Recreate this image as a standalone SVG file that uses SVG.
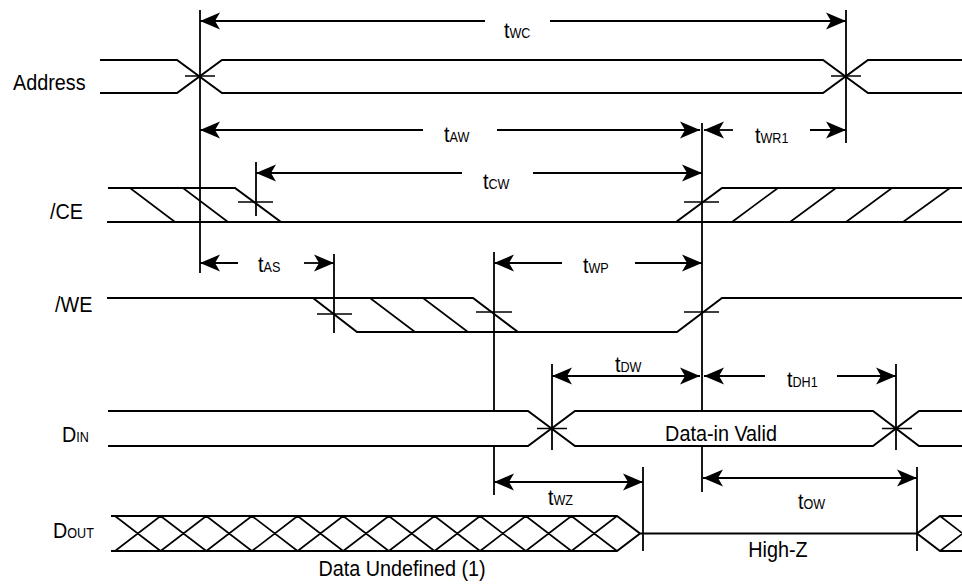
<svg xmlns="http://www.w3.org/2000/svg" width="962" height="584" viewBox="0 0 962 584">
<style>
.sig{fill:none;stroke:#000;stroke-width:2}
.hat{fill:none;stroke:#000;stroke-width:1.6}
.ref{fill:none;stroke:#000;stroke-width:1.8}
.dim{fill:none;stroke:#000;stroke-width:1.8}
.lbl{font-family:"Liberation Sans",Arial,sans-serif;font-size:22px;fill:#000}
.sub{font-size:14px}
</style>
<defs>
<marker id="ah" markerUnits="userSpaceOnUse" viewBox="0 -9 20 18" refX="20" refY="0" markerWidth="20" markerHeight="18" orient="auto-start-reverse">
<path d="M0,-8.5 L20,0 L0,8.5 L5,0 Z" fill="#000"/>
</marker>
</defs>
<rect width="962" height="584" fill="#fff"/>

<g id="address">
<text class="lbl" transform="matrix(0.9 0 0 1 13 90)">Address</text>
<path class="sig" d="M100,60 H177 L222,93 H823 L868,60 H962 M100,93 H177 L222,60 H823 L868,93 H962"/>
<path class="hat" d="M185,76 H215 M831,76 H861"/>
</g>

<g id="ce">
<text class="lbl" transform="matrix(0.9 0 0 1 50 219)">/CE</text>
<path class="sig" d="M108,188 H235 L281,222 M107,222 H962 M676,222 L722,188 H962"/>
<path class="hat" d="M130,188 L175,222 M183,188 L228,222 M732,222 L778,188 M790,222 L836,188 M846,222 L892,188 M903,222 L950,188"/>
<path class="hat" d="M238,202 H273 M684,202 H719"/>
</g>

<g id="we">
<text class="lbl" transform="matrix(0.9 0 0 1 55 312)">/WE</text>
<path class="sig" d="M107,298 H473 L518,332 M313,298 L357,332 H677 L722,298 H962"/>
<path class="hat" d="M370,298 L415,332 M423,298 L468,332"/>
<path class="hat" d="M317,314 H352 M476,312 H512 M684,312 H719"/>
</g>

<g id="din">
<text class="lbl" transform="matrix(0.9 0 0 1 62 442)">D<tspan class="sub">IN</tspan></text>
<path class="sig" d="M108,411 H528 L575,446 H873 L919,411 H962 M108,446 H528 L575,411 H873 L919,446 H962"/>
<path class="hat" d="M537,428.5 H567 M882,428.5 H912"/>
<text class="lbl" text-anchor="middle" transform="matrix(0.9 0 0 1 721 441)">Data-in Valid</text>
</g>

<g id="dout">
<text class="lbl" transform="matrix(0.9 0 0 1 53 538)">D<tspan class="sub">OUT</tspan></text>
<path class="sig" d="M111,516 H617 L640,533.5 L617,551 H111 M640,533.5 H917 L940,516 H962 M917,533.5 L940,551 H962"/>
<path class="hat" d="M115,516 L160.6,551 M115,551 L160.6,516 M160.6,516 L206.3,551 M160.6,551 L206.3,516 M206.3,516 L251.9,551 M206.3,551 L251.9,516 M251.9,516 L297.6,551 M251.9,551 L297.6,516 M297.6,516 L343.2,551 M297.6,551 L343.2,516 M343.2,516 L388.8,551 M343.2,551 L388.8,516 M388.8,516 L434.5,551 M388.8,551 L434.5,516 M434.5,516 L480.1,551 M434.5,551 L480.1,516 M480.1,516 L525.8,551 M480.1,551 L525.8,516 M525.8,516 L571.4,551 M525.8,551 L571.4,516 M571.4,516 L617,551 M571.4,551 L617,516 M940,516 L985,551 M940,551 L985,516"/>
<text class="lbl" text-anchor="middle" transform="matrix(0.9 0 0 1 402 576)">Data Undefined (1)</text>
<text class="lbl" text-anchor="middle" transform="matrix(0.9 0 0 1 778 557)">High-Z</text>
</g>

<g id="connectors">
<path class="ref" d="M200,10 V273 M846,10 V143 M702,123 V411 M702,447 V492 M256,162 V216 M334,254 V333 M494,252 V411 M494,447 V495 M552,364 V450 M896,364 V450 M643,467 V551 M917,467 V551"/>
<line class="dim" x1="200" y1="21" x2="485" y2="21" marker-start="url(#ah)"/>
<line class="dim" x1="550" y1="21" x2="846" y2="21" marker-end="url(#ah)"/>
<line class="dim" x1="200" y1="130" x2="423" y2="130" marker-start="url(#ah)"/>
<line class="dim" x1="497" y1="130" x2="700" y2="130" marker-end="url(#ah)"/>
<line class="dim" x1="704" y1="130" x2="733" y2="130" marker-start="url(#ah)"/>
<line class="dim" x1="810" y1="130" x2="846" y2="130" marker-end="url(#ah)"/>
<line class="dim" x1="256" y1="173" x2="462" y2="173" marker-start="url(#ah)"/>
<line class="dim" x1="533" y1="173" x2="702" y2="173" marker-end="url(#ah)"/>
<line class="dim" x1="200" y1="263" x2="238" y2="263" marker-start="url(#ah)"/>
<line class="dim" x1="304" y1="263" x2="334" y2="263" marker-end="url(#ah)"/>
<line class="dim" x1="494" y1="263" x2="562" y2="263" marker-start="url(#ah)"/>
<line class="dim" x1="635" y1="263" x2="702" y2="263" marker-end="url(#ah)"/>
<line class="dim" x1="552" y1="376" x2="700" y2="376" marker-start="url(#ah)" marker-end="url(#ah)"/>
<line class="dim" x1="704" y1="376" x2="765" y2="376" marker-start="url(#ah)"/>
<line class="dim" x1="837" y1="376" x2="896" y2="376" marker-end="url(#ah)"/>
<line class="dim" x1="494" y1="482" x2="643" y2="482" marker-start="url(#ah)" marker-end="url(#ah)"/>
<line class="dim" x1="703" y1="478" x2="917" y2="478" marker-start="url(#ah)" marker-end="url(#ah)"/>
<text class="lbl" transform="matrix(0.9 0 0 1 504 38)">t<tspan class="sub">WC</tspan></text>
<text class="lbl" transform="matrix(0.9 0 0 1 444 142)">t<tspan class="sub">AW</tspan></text>
<text class="lbl" transform="matrix(0.9 0 0 1 755 143)">t<tspan class="sub">WR1</tspan></text>
<text class="lbl" transform="matrix(0.9 0 0 1 483 189)">t<tspan class="sub">CW</tspan></text>
<text class="lbl" transform="matrix(0.9 0 0 1 258 272)">t<tspan class="sub">AS</tspan></text>
<text class="lbl" transform="matrix(0.9 0 0 1 583 273)">t<tspan class="sub">WP</tspan></text>
<text class="lbl" transform="matrix(0.9 0 0 1 615 372)">t<tspan class="sub">DW</tspan></text>
<text class="lbl" transform="matrix(0.9 0 0 1 787 387)">t<tspan class="sub">DH1</tspan></text>
<text class="lbl" transform="matrix(0.9 0 0 1 548 505)">t<tspan class="sub">WZ</tspan></text>
<text class="lbl" transform="matrix(0.9 0 0 1 798 509)">t<tspan class="sub">OW</tspan></text>
</g>
</svg>
